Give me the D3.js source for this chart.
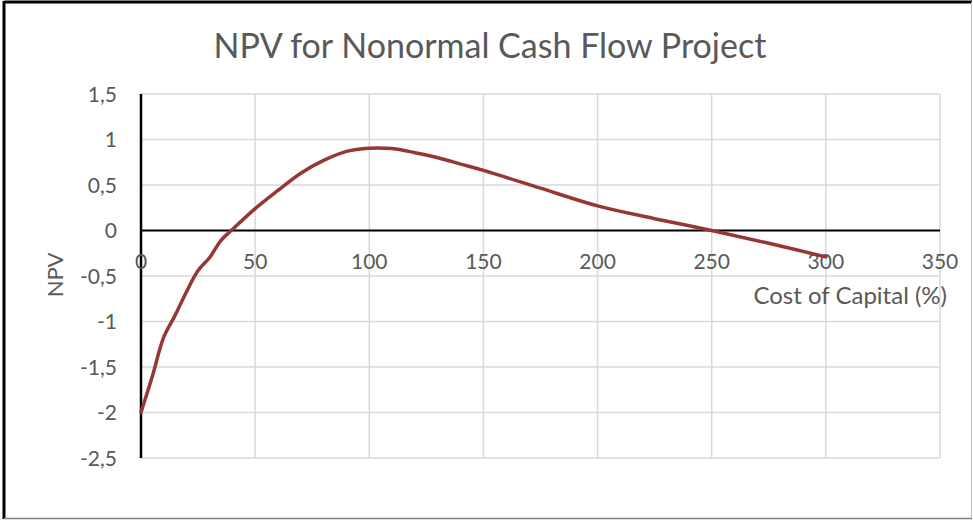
<!DOCTYPE html>
<html><head><meta charset="utf-8">
<script src="https://cdn.jsdelivr.net/npm/d3@7"></script>
<style>body{margin:0;background:#fff}svg{display:block}</style>
</head><body>
<svg id="c" width="973" height="520"></svg>
<script>
const title = "NPV for Nonormal Cash Flow Project";
const xLabel = "Cost of Capital (%)";
const yLabel = "NPV";
const costOfCapital = [0, 5, 10, 15, 20, 25, 30, 35, 40, 50, 60, 70, 80, 90, 100, 110, 120, 130, 140, 150, 175, 200, 225, 250, 275, 300];
const npv = [-2, -1.6, -1.17, -0.93, -0.67, -0.44, -0.3, -0.11, 0.01, 0.24, 0.44, 0.63, 0.77, 0.87, 0.905, 0.9, 0.855, 0.8, 0.73, 0.66, 0.465, 0.27, 0.13, 0.0, -0.14, -0.29];
const xTicks = [0, 50, 100, 150, 200, 250, 300, 350];
const yTicks = [-2.5, -2, -1.5, -1, -0.5, 0, 0.5, 1, 1.5];

const svg = d3.select("#c");
const font = "Lato, 'Open Sans', sans-serif";
const grey = "#595959";

// frame
svg.append("line").attr("x1",4).attr("y1",2).attr("x2",972).attr("y2",2).attr("stroke","#000").attr("stroke-width",3);
svg.append("line").attr("x1",4).attr("y1",1).attr("x2",4).attr("y2",519).attr("stroke","#000").attr("stroke-width",3);
svg.append("line").attr("x1",971.5).attr("y1",2).attr("x2",971.5).attr("y2",519).attr("stroke","#bfbfbf").attr("stroke-width",1);
svg.append("line").attr("x1",4).attr("y1",518.5).attr("x2",972).attr("y2",518.5).attr("stroke","#7f7f7f").attr("stroke-width",1.5);

const x = d3.scaleLinear().domain([0,350]).range([141,940]);
const y = d3.scaleLinear().domain([-2.5,1.5]).range([458,94]);

// gridlines
svg.append("g").selectAll("line").data(yTicks).join("line")
  .attr("x1",x(0)).attr("x2",x(350)).attr("y1",d=>y(d)).attr("y2",d=>y(d))
  .attr("stroke","#d9d9d9").attr("stroke-width",1.5);
svg.append("g").selectAll("line").data(xTicks.filter(d=>d>0)).join("line")
  .attr("x1",d=>x(d)).attr("x2",d=>x(d)).attr("y1",y(1.5)).attr("y2",y(-2.5))
  .attr("stroke","#d9d9d9").attr("stroke-width",1.5);

// axes
svg.append("line").attr("x1",x(0)).attr("x2",x(350)).attr("y1",y(0)).attr("y2",y(0)).attr("stroke","#000").attr("stroke-width",2.2);
svg.append("line").attr("x1",x(0)).attr("x2",x(0)).attr("y1",y(1.5)).attr("y2",y(-2.5)).attr("stroke","#000").attr("stroke-width",2.5);

const fmt = d => String(d).replace(".", ",");
svg.append("g").selectAll("text").data(yTicks).join("text")
  .attr("x",117).attr("y",d=>y(d)).attr("dy","0.36em").attr("text-anchor","end")
  .attr("font-family",font).attr("font-size",21).attr("fill",grey).text(fmt);
svg.append("g").selectAll("text").data(xTicks).join("text")
  .attr("x",d=>x(d)).attr("y",y(0)+38).attr("text-anchor","middle")
  .attr("font-family",font).attr("font-size",21).attr("fill",grey).text(d=>d);

// line
const data = costOfCapital.map((c,i)=>[c,npv[i]]);
svg.append("path").datum(data)
  .attr("d", d3.line().x(d=>x(d[0])).y(d=>y(d[1])).curve(d3.curveCatmullRom.alpha(0.5)))
  .attr("fill","none").attr("stroke","#953735").attr("stroke-width",3.5).attr("stroke-linecap","round");

// titles
svg.append("text").attr("x",490).attr("y",58).attr("text-anchor","middle")
  .attr("font-family",font).attr("font-size",34).attr("fill",grey).text(title);
svg.append("text").attr("x",947).attr("y",304).attr("text-anchor","end")
  .attr("font-family",font).attr("font-size",24).attr("fill",grey).text(xLabel);
svg.append("text").attr("transform","translate(63,275) rotate(-90)").attr("text-anchor","middle")
  .attr("font-family",font).attr("font-size",22).attr("fill",grey).text(yLabel);
</script>
</body></html>
